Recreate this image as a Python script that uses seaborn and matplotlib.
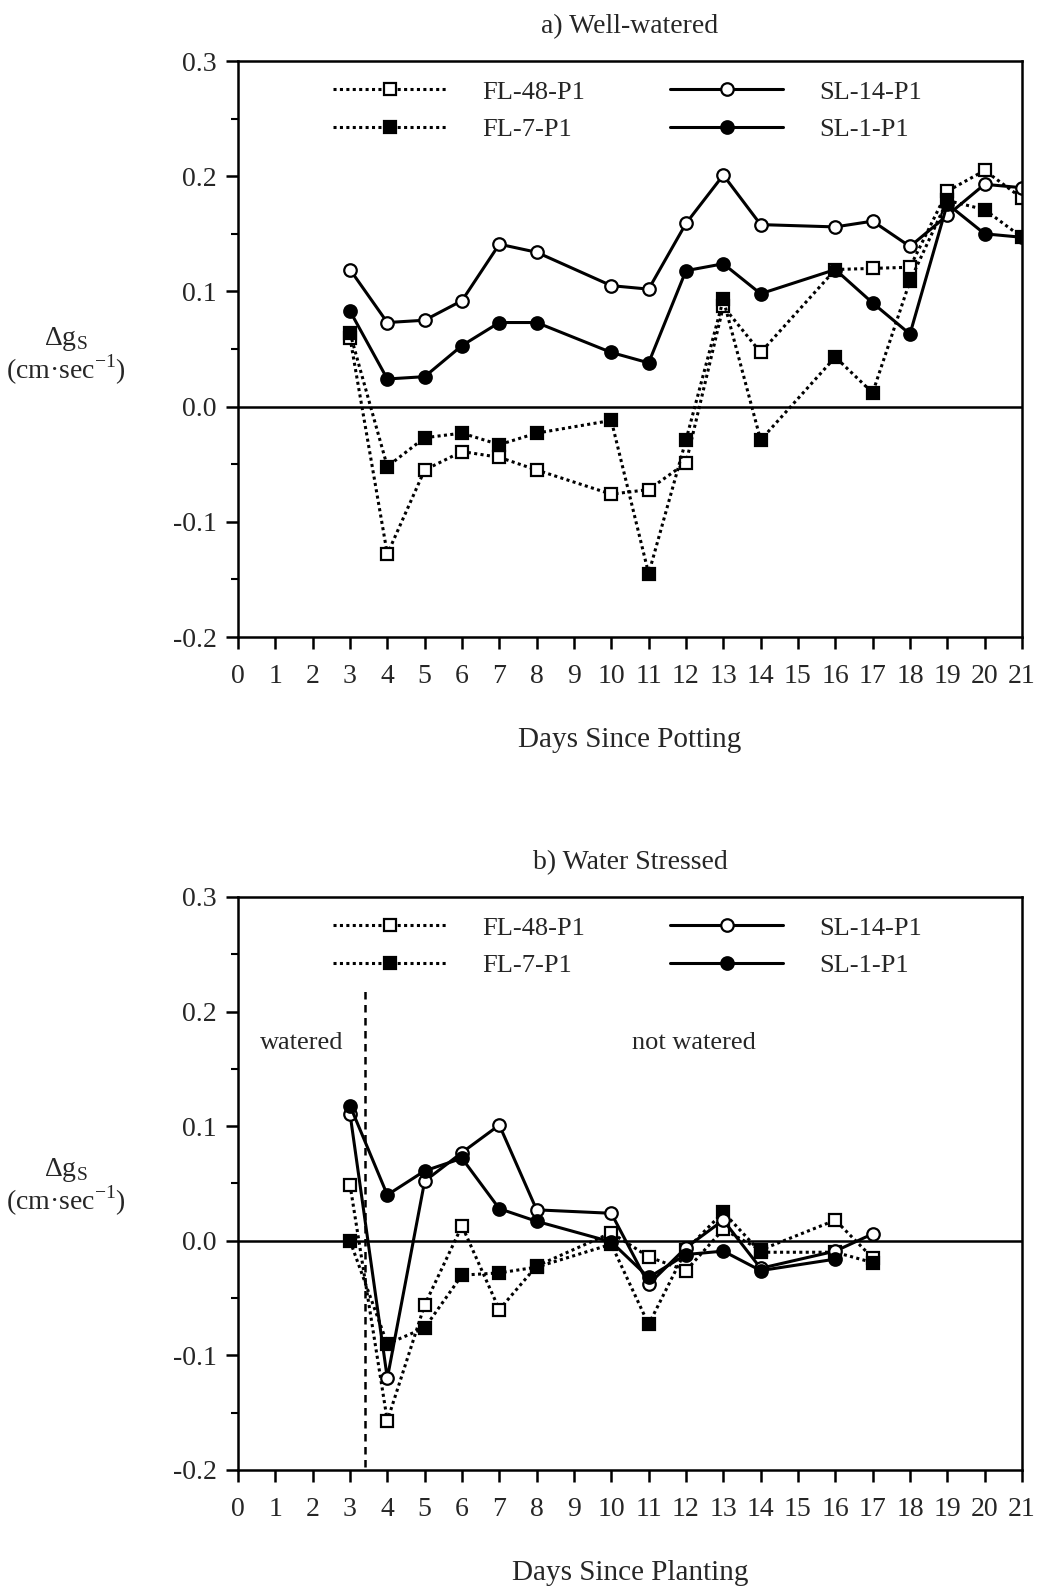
import numpy as np
import pandas as pd
import matplotlib
matplotlib.use("Agg")
import matplotlib.pyplot as plt
import seaborn as sns
from matplotlib.ticker import MultipleLocator, FormatStrFormatter

# ---------------- data ----------------
days_a = [3, 4, 5, 6, 7, 8, 10, 11, 12, 13, 14, 16, 17, 18, 19, 20, 21]
fl48_a = [0.060, -0.128, -0.055, -0.039, -0.044, -0.055, -0.076, -0.072, -0.049,
          0.087, 0.047, 0.119, 0.120, 0.121, 0.187, 0.205, 0.181]
fl7_a = [0.064, -0.052, -0.027, -0.023, -0.033, -0.023, -0.012, -0.145, -0.029,
         0.093, -0.029, 0.043, 0.012, 0.109, 0.179, 0.171, 0.147]
sl14_a = [0.119, 0.073, 0.075, 0.092, 0.141, 0.134, 0.105, 0.102, 0.159,
          0.201, 0.158, 0.156, 0.161, 0.139, 0.166, 0.193, 0.190]
sl1_a = [0.083, 0.024, 0.026, 0.053, 0.073, 0.073, 0.047, 0.038, 0.118,
         0.124, 0.098, 0.119, 0.090, 0.063, 0.176, 0.150, 0.147]

days_b = [3, 4, 5, 6, 7, 8, 10, 11, 12, 13, 14, 16, 17]
fl48_b = [0.049, -0.157, -0.056, 0.013, -0.060, -0.022, 0.007, -0.014, -0.026,
          0.010, -0.008, 0.018, -0.015]
fl7_b = [0.000, -0.090, -0.076, -0.030, -0.028, -0.023, -0.003, -0.073, -0.008,
         0.025, -0.010, -0.010, -0.019]
sl14_b = [0.111, -0.120, 0.052, 0.077, 0.101, 0.027, 0.024, -0.038, -0.006,
          0.018, -0.024, -0.009, 0.006]
days_b_sl1 = [3, 4, 5, 6, 7, 8, 10, 11, 12, 13, 14, 16]
sl1_b = [0.118, 0.040, 0.061, 0.072, 0.028, 0.017, -0.001, -0.032, -0.012,
         -0.009, -0.026, -0.016]

series_names = ["FL-48-P1", "FL-7-P1", "SL-14-P1", "SL-1-P1"]
x_ticks = list(range(0, 22))
y_ticks = [-0.2, -0.1, 0.0, 0.1, 0.2, 0.3]
titles = ["a) Well-watered", "b) Water Stressed"]
xlabels = ["Days Since Potting", "Days Since Planting"]
ylabel_text = "Δg$_\\mathregular{S}$\n(cm·sec$^\\mathregular{-1}$)"
split_day = 3.4
split_span = (-0.197, 0.222)
region_labels = [("watered", 1.72, 0.173), ("not watered", 12.2, 0.173)]

# ---------------- style ----------------
sns.set_style("ticks")
plt.rcParams["font.family"] = ["Liberation Serif", "DejaVu Serif"]
plt.rcParams["mathtext.fontset"] = "custom"
plt.rcParams["mathtext.rm"] = "Liberation Serif"
plt.rcParams["axes.unicode_minus"] = False

FS_TICK = 20
FS_TITLE = 20
FS_XLAB = 21
FS_LEG = 19
FS_YLAB = 20
DOT = (0, (1, 1.1))

styles = {
    "FL-48-P1": dict(linestyle=DOT, marker="s", markerfacecolor="white", lw=2.2),
    "FL-7-P1": dict(linestyle=DOT, marker="s", markerfacecolor="black", lw=2.2),
    "SL-14-P1": dict(linestyle="-", marker="o", markerfacecolor="white", lw=2.2),
    "SL-1-P1": dict(linestyle="-", marker="o", markerfacecolor="black", lw=2.2),
}

fig = plt.figure(figsize=(10.37, 15.89), dpi=100)
ax_a = fig.add_axes([0.2295, 0.5991, 0.756, 0.3625])
ax_b = fig.add_axes([0.2295, 0.0749, 0.756, 0.3606])


def draw(ax, xs_list, ys_list):
    for name, xs, ys in zip(series_names, xs_list, ys_list):
        st = styles[name]
        df = pd.DataFrame({"day": xs, "dg": ys})
        sns.lineplot(data=df, x="day", y="dg", ax=ax, color="black",
                     linestyle=st["linestyle"], linewidth=st["lw"],
                     marker=st["marker"], markersize=9,
                     markerfacecolor=st["markerfacecolor"],
                     markeredgecolor="black", markeredgewidth=1.6,
                     label=name, sort=True)


draw(ax_a, [days_a, days_a, days_a, days_a], [fl48_a, fl7_a, sl14_a, sl1_a])
draw(ax_b, [days_b, days_b, days_b, days_b_sl1], [fl48_b, fl7_b, sl14_b, sl1_b])

for i, ax in enumerate([ax_a, ax_b]):
    ax.axhline(0, color="black", lw=1.8, zorder=1)
    ax.set_xlim(0, 21)
    ax.set_ylim(-0.2, 0.3)
    ax.set_xticks(x_ticks)
    ax.set_xticklabels([str(t) for t in x_ticks], fontsize=FS_TICK)
    ax.set_yticks(y_ticks)
    ax.yaxis.set_major_formatter(FormatStrFormatter("%.1f"))
    ax.yaxis.set_minor_locator(MultipleLocator(0.05))
    for lab in ax.get_yticklabels():
        lab.set_fontsize(FS_TICK)
    ax.tick_params(axis="both", which="major", direction="out", length=8.5,
                   width=1.8, color="black")
    ax.tick_params(axis="x", which="major", pad=11)
    ax.tick_params(axis="y", which="major", pad=7)
    ax.tick_params(axis="y", which="minor", direction="out", length=5,
                   width=1.5, color="black")
    for sp in ax.spines.values():
        sp.set_visible(True)
        sp.set_linewidth(1.8)
        sp.set_color("black")
    ax.set_title(titles[i], fontsize=FS_TITLE, pad=20)
    ax.set_xlabel(xlabels[i], fontsize=FS_XLAB, labelpad=27)
    ax.set_ylabel("")
    ax.legend(ncol=2, loc="upper center", bbox_to_anchor=(0.497, 0.985),
              frameon=False, fontsize=FS_LEG, handlelength=4.3,
              handletextpad=1.35, columnspacing=3.2, labelspacing=0.53,
              numpoints=1, borderaxespad=0.0)

ax_b.vlines(split_day, split_span[0], split_span[1], colors="black",
            linestyles=(0, (3, 2.2)), lw=1.8)
for txt, xx, yy in region_labels:
    ax_b.text(xx, yy, txt, fontsize=19, ha="center", va="center")

fig.text(0.0636, 0.776, ylabel_text, fontsize=FS_YLAB, ha="center",
         va="center", multialignment="center", linespacing=1.0)
fig.text(0.0636, 0.253, ylabel_text, fontsize=FS_YLAB, ha="center",
         va="center", multialignment="center", linespacing=1.0)

fig.savefig("out.png", dpi=100)
